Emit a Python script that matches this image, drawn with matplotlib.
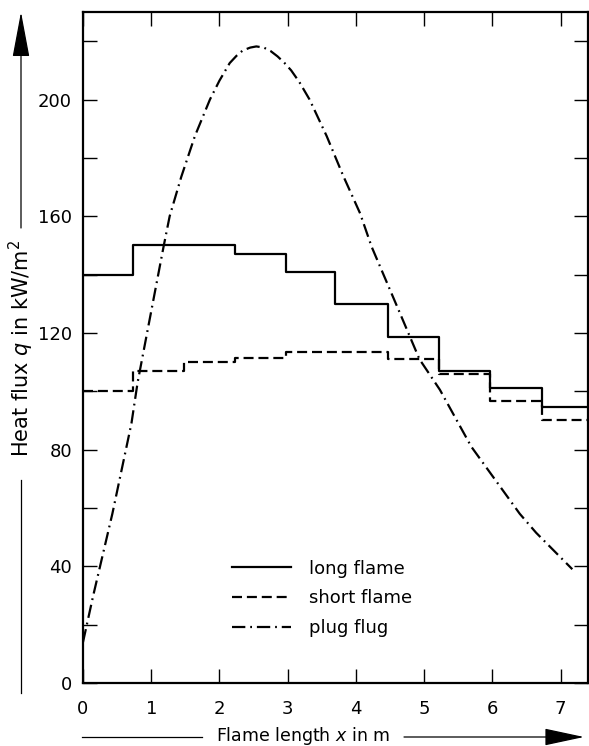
import matplotlib
matplotlib.use("Agg")
import matplotlib.pyplot as plt
from matplotlib.lines import Line2D

# --- data ---
step_edges = [0.0, 0.73, 1.48, 2.23, 2.97, 3.70, 4.47, 5.21, 5.97, 6.72, 7.4]
long_flame = [140, 150, 150, 147, 141, 130, 118.5, 107, 101, 94.5]
short_flame = [100, 107, 110, 111.5, 113.5, 113.5, 111, 106, 96.5, 90]

plug_x = [0.0, 0.15, 0.30, 0.43, 0.57, 0.71, 0.80, 1.18, 1.27, 1.44, 1.64, 1.86,
          2.0, 2.15, 2.25, 2.34, 2.45, 2.54, 2.65, 2.75, 2.85, 2.95, 3.05, 3.17, 3.32,
          3.57, 3.81, 4.06, 4.23, 4.64, 4.93, 5.23, 5.69, 6.40, 6.64, 7.17]
plug_q = [14, 30, 45, 58, 73.5, 89, 103, 149.5, 160, 173.5, 187.5, 200,
          206.5, 212.5, 215, 216.8, 217.8, 218.2, 217.8, 216.6, 214.8, 212.6, 210, 206, 200,
          187.5, 174, 161, 149.5, 127, 111, 100.5, 81, 58, 51.5, 39]

x_ticks = [0, 1, 2, 3, 4, 5, 6, 7]
y_major = [0, 40, 80, 120, 160, 200]
y_minor = [20, 60, 100, 140, 180, 220]

labels = ["long flame", "short flame", "plug flug"]

W, H = 589, 746
fig = plt.figure(figsize=(W / 100, H / 100), dpi=100)
ax = fig.add_axes([83 / W, 1 - 683 / H, (588 - 83) / W, (683 - 12) / H])

lw = 1.6
ax.step(step_edges, long_flame + [long_flame[-1]], where="post", color="k", lw=lw,
        label=labels[0])
ax.step(step_edges, short_flame + [short_flame[-1]], where="post", color="k", lw=lw,
        dashes=(4.5, 2.2), label=labels[1])
ax.plot(plug_x, plug_q, color="k", lw=lw, dashes=(6, 2.2, 0.8, 2.2), label=labels[2])

ax.set_xlim(0, 7.4)
ax.set_ylim(0, 230)
ax.set_xticks(x_ticks)
ax.set_yticks(y_major)
ax.set_yticks(y_minor, minor=True)
ax.tick_params(which="both", direction="in", length=10, width=1.0,
               top=True, right=True, labelsize=13, pad=8)
ax.tick_params(axis="x", pad=12)
for sp in ax.spines.values():
    sp.set_linewidth(1.6)

leg = ax.legend(loc="upper left", bbox_to_anchor=(2.18 / 7.4, 0.184), frameon=False,
                fontsize=13, handlelength=3.3, handletextpad=1.0, labelspacing=0.65,
                borderpad=0, borderaxespad=0)

# axis titles with arrow lines, in figure fraction
def fx(px):
    return px / W

def fy(py):
    return 1 - py / H

fig.text(fx(21), fy(348), "Heat flux $q$ in kW/m$^2$", rotation=90,
         ha="center", va="center", fontsize=15)
fig.add_artist(Line2D([fx(21), fx(21)], [fy(693), fy(480)], color="k", lw=0.9))
ax.annotate("", xy=(fx(21), fy(12)), xytext=(fx(21), fy(228)),
            xycoords="figure fraction", textcoords="figure fraction",
            arrowprops=dict(arrowstyle="-|>,head_length=1.6,head_width=0.3",
                            mutation_scale=18, color="k", lw=0.9,
                            shrinkA=0, shrinkB=0))

fig.text(fx(303), fy(741), "Flame length $x$ in m", ha="center", va="baseline",
         fontsize=12.5)
fig.add_artist(Line2D([fx(82), fx(202)], [fy(737), fy(737)], color="k", lw=0.9))
ax.annotate("", xy=(fx(584), fy(737)), xytext=(fx(404), fy(737)),
            xycoords="figure fraction", textcoords="figure fraction",
            arrowprops=dict(arrowstyle="-|>,head_length=1.4,head_width=0.3",
                            mutation_scale=18, color="k", lw=0.9,
                            shrinkA=0, shrinkB=0))

fig.savefig("out.png", dpi=100)
